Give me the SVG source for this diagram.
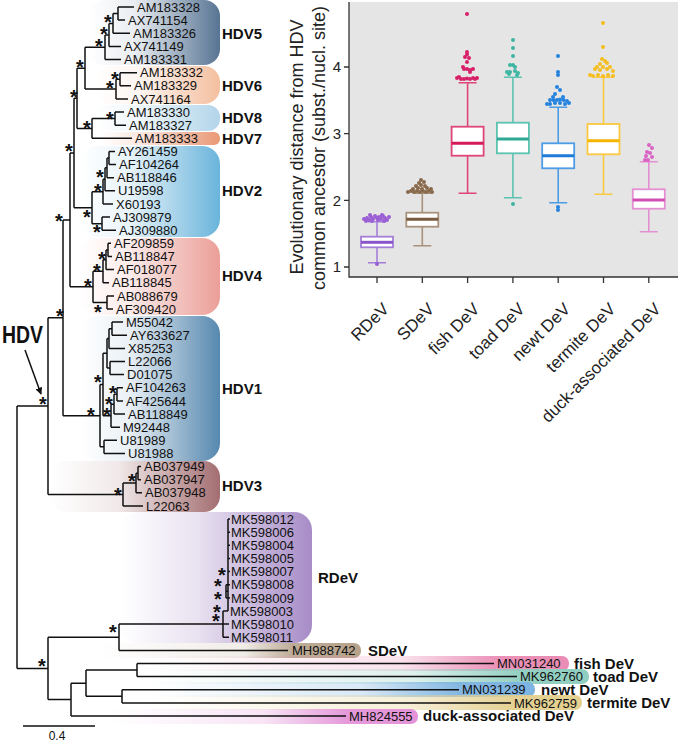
<svg xmlns="http://www.w3.org/2000/svg" width="678" height="742" viewBox="0 0 678 742">
<style>
.br{fill:none;stroke:#111;stroke-width:1.5}
.lf{font-family:"Liberation Sans",Arial,sans-serif;font-size:13px;fill:#111}
.gl{font-family:"Liberation Sans",Arial,sans-serif;font-size:15px;font-weight:bold;fill:#111}
.st{font-family:"Liberation Sans",Arial,sans-serif;font-size:20px;font-weight:bold;fill:#111;text-anchor:middle}
.ax{font-family:"Liberation Sans",Arial,sans-serif;font-size:17px;fill:#222}
.yt{font-family:"Liberation Sans",Arial,sans-serif;font-size:15px;fill:#222;text-anchor:end}
.ttl{font-family:"Liberation Sans",Arial,sans-serif;font-size:18px;fill:#222;text-anchor:middle}
.wk{fill:none;stroke-width:1.6}
.md{stroke-width:3}
</style>
<defs>
<linearGradient id="g5" x1="0" x2="1" y1="0" y2="0"><stop offset="0" stop-color="#577493" stop-opacity="0"/><stop offset="0.35" stop-color="#577493" stop-opacity="0.12"/><stop offset="1" stop-color="#577493"/></linearGradient>
<linearGradient id="g6" x1="0" x2="1" y1="0" y2="0"><stop offset="0" stop-color="#f4bf9f" stop-opacity="0"/><stop offset="0.35" stop-color="#f4bf9f" stop-opacity="0.15"/><stop offset="1" stop-color="#f4bf9f"/></linearGradient>
<linearGradient id="g8" x1="0" x2="1" y1="0" y2="0"><stop offset="0" stop-color="#b2d5ea" stop-opacity="0"/><stop offset="0.35" stop-color="#b2d5ea" stop-opacity="0.2"/><stop offset="1" stop-color="#b2d5ea"/></linearGradient>
<linearGradient id="g7" x1="0" x2="1" y1="0" y2="0"><stop offset="0" stop-color="#e99875" stop-opacity="0"/><stop offset="0.3" stop-color="#e99875" stop-opacity="0.2"/><stop offset="1" stop-color="#e99875"/></linearGradient>
<linearGradient id="g2" x1="0" x2="1" y1="0" y2="0"><stop offset="0" stop-color="#6ab4db" stop-opacity="0"/><stop offset="0.35" stop-color="#6ab4db" stop-opacity="0.15"/><stop offset="1" stop-color="#6ab4db"/></linearGradient>
<linearGradient id="g4" x1="0" x2="1" y1="0" y2="0"><stop offset="0" stop-color="#eb9f98" stop-opacity="0"/><stop offset="0.35" stop-color="#eb9f98" stop-opacity="0.2"/><stop offset="1" stop-color="#eb9f98"/></linearGradient>
<linearGradient id="g1" x1="0" x2="1" y1="0" y2="0"><stop offset="0" stop-color="#5688af" stop-opacity="0"/><stop offset="0.35" stop-color="#5688af" stop-opacity="0.12"/><stop offset="1" stop-color="#5688af"/></linearGradient>
<linearGradient id="g3" x1="0" x2="1" y1="0" y2="0"><stop offset="0" stop-color="#a36e71" stop-opacity="0"/><stop offset="0.4" stop-color="#a36e71" stop-opacity="0.15"/><stop offset="1" stop-color="#a36e71"/></linearGradient>
<linearGradient id="gR" x1="0" x2="1" y1="0" y2="0"><stop offset="0" stop-color="#a78cc6" stop-opacity="0"/><stop offset="0.4" stop-color="#a78cc6" stop-opacity="0.25"/><stop offset="1" stop-color="#a78cc6"/></linearGradient>
<linearGradient id="gS" x1="0" x2="1" y1="0" y2="0"><stop offset="0" stop-color="#b6a28b" stop-opacity="0"/><stop offset="0.55" stop-color="#b6a28b" stop-opacity="0.2"/><stop offset="0.74" stop-color="#b6a28b" stop-opacity="0.9"/><stop offset="1" stop-color="#b6a28b"/></linearGradient>
<linearGradient id="gF" x1="0" x2="1" y1="0" y2="0"><stop offset="0" stop-color="#ea8cb4" stop-opacity="0"/><stop offset="0.6" stop-color="#ea8cb4" stop-opacity="0.25"/><stop offset="0.83" stop-color="#ea8cb4" stop-opacity="0.95"/><stop offset="1" stop-color="#ea8cb4"/></linearGradient>
<linearGradient id="gT" x1="0" x2="1" y1="0" y2="0"><stop offset="0" stop-color="#8fcec0" stop-opacity="0"/><stop offset="0.6" stop-color="#8fcec0" stop-opacity="0.3"/><stop offset="0.84" stop-color="#8fcec0" stop-opacity="0.95"/><stop offset="1" stop-color="#8fcec0"/></linearGradient>
<linearGradient id="gN" x1="0" x2="1" y1="0" y2="0"><stop offset="0" stop-color="#7eb4e1" stop-opacity="0"/><stop offset="0.55" stop-color="#7eb4e1" stop-opacity="0.3"/><stop offset="0.8" stop-color="#7eb4e1" stop-opacity="0.95"/><stop offset="1" stop-color="#7eb4e1"/></linearGradient>
<linearGradient id="gM" x1="0" x2="1" y1="0" y2="0"><stop offset="0" stop-color="#e3cf8e" stop-opacity="0"/><stop offset="0.6" stop-color="#e3cf8e" stop-opacity="0.35"/><stop offset="0.84" stop-color="#e3cf8e" stop-opacity="0.95"/><stop offset="1" stop-color="#e3cf8e"/></linearGradient>
<linearGradient id="gD" x1="0" x2="1" y1="0" y2="0"><stop offset="0" stop-color="#e394d8" stop-opacity="0"/><stop offset="0.5" stop-color="#e394d8" stop-opacity="0.25"/><stop offset="0.77" stop-color="#e394d8" stop-opacity="0.95"/><stop offset="1" stop-color="#e394d8"/></linearGradient>
<marker id="ah" viewBox="0 0 10 10" refX="9" refY="5" markerWidth="7" markerHeight="7" orient="auto" markerUnits="userSpaceOnUse"><path d="M0,0 L10,5 L0,10 z" fill="#111"/></marker>
</defs>

<!-- clade backgrounds -->
<g id="backgrounds">
<rect x="88" y="0" width="132" height="65" rx="16" fill="url(#g5)"/>
<rect x="95" y="66" width="125" height="38" rx="16" fill="url(#g6)"/>
<rect x="95" y="105" width="125" height="26" rx="12" fill="url(#g8)"/>
<rect x="100" y="132" width="120" height="13" rx="6" fill="url(#g7)"/>
<rect x="80" y="146" width="140" height="91" rx="18" fill="url(#g2)"/>
<rect x="80" y="238" width="140" height="77" rx="18" fill="url(#g4)"/>
<rect x="80" y="316" width="140" height="145" rx="18" fill="url(#g1)"/>
<rect x="50" y="461" width="170" height="51" rx="16" fill="url(#g3)"/>
<rect x="120" y="512" width="192" height="131" rx="18" fill="url(#gR)"/>
<rect x="100" y="643" width="261" height="15" rx="7" fill="url(#gS)"/>
<rect x="150" y="656" width="419" height="15" rx="7" fill="url(#gF)"/>
<rect x="150" y="669" width="439" height="15" rx="7" fill="url(#gT)"/>
<rect x="150" y="682" width="385" height="15" rx="7" fill="url(#gN)"/>
<rect x="150" y="695" width="432" height="15" rx="7" fill="url(#gM)"/>
<rect x="110" y="709" width="308" height="15" rx="7" fill="url(#gD)"/>
</g>

<g id="connectors" class="br">
<path d="M118,7V20.1M118,7H134M118,20.1H125M113,13.55V33.3M113,13.55H118M113,33.3H130M109,23.4V46.4M109,23.4H113M109,46.4H121M105,34.9V59.5M105,34.9H109M105,59.5H121"/>
<path d="M120,72.7V85.8M120,72.7H137M120,85.8H131M116,79.25V98.9M116,79.25H120M116,98.9H128M85,47.2V89.1M85,47.2H105M85,89.1H116"/>
<path d="M115,112V125.2M115,112H124M115,125.2H126M92,118.6V138.3M92,118.6H115M92,138.3H132M77,68.15V128.45M77,68.15H85M77,128.45H92"/>
<path d="M109,151.4V164.6M109,151.4H115M109,164.6H116M107,158V177.7M107,158H109M107,177.7H114M105,167.85V190.8M105,167.85H107M105,190.8H115M103,179.3V204M103,179.3H105M103,204H113M102,217.1V230.2M102,217.1H110M102,230.2H116M92,191.65V223.65M92,191.65H103M92,223.65H102M74,98.3V207.65M74,98.3H77M74,207.65H92"/>
<path d="M108,243.3V256.5M108,243.3H111M108,256.5H112M106,249.9V269.6M106,249.9H108M106,269.6H114M103,259.75V282.7M103,259.75H106M103,282.7H109M107,295.9V309M107,295.9H114M107,309H113M93,271.2V302.45M93,271.2H103M93,302.45H107M70,152.98V286.8M70,152.98H74M70,286.8H93"/>
<path d="M112,322.1V335.3M112,322.1H123M112,335.3H127M109,328.7V348.4M109,328.7H112M109,348.4H125M110,361.5V374.6M110,361.5H125M110,374.6H124M107,338.55V368.05M107,338.55H109M107,368.05H110M117,387.8V400.9M117,387.8H123M117,400.9H123M114,394.35V414M114,394.35H117M114,414H125M111,404.2V427.2M111,404.2H114M111,427.2H120M103,353.3V415.7M103,353.3H107M103,415.7H111M104,440.3V453.4M104,440.3H117M104,453.4H125M100,384.5V446.85M100,384.5H103M100,446.85H104M63,219.9V415.7M63,219.9H70M63,415.7H100"/>
<path d="M138,466.6V479.7M138,466.6H141M138,479.7H141M136,473.15V492.8M136,473.15H138M136,492.8H142M123,482.98V505.9M123,482.98H136M123,505.9H143M48,317.8V494.4M48,317.8H63M48,494.4H123"/>
<path d="M17,406.1V668.4M17,406.1H48M17,668.4H48M48,637.25V699.6M48,637.25H119M48,699.6H71M119,624.1V650.4M119,624.1H223M119,650.4H288"/>
<path d="M223,611V637.2M223,611H228M223,624.1H229M223,637.2H229M228,519.1V611M228,519.1H230M228,532.2H230M228,545.3H230M228,558.5H230M228,571.6H230M226,584.7V597.9M226,584.7H230M226,597.9H230M226,591.3H228"/>
<path d="M71,683.2V716M71,683.2H86M71,716H346M86,670.05V696.3M86,670.05H137M86,696.3H122M137,663.5V676.6M137,663.5H494M137,676.6H517M122,689.7V702.9M122,689.7H459M122,702.9H511"/>
<path d="M23,726H95"/>
<path d="M25,350L41,394" marker-end="url(#ah)"/>
</g>

<g id="support">
<text class="st" x="108" y="29">*</text>
<text class="st" x="104" y="41">*</text>
<text class="st" x="99" y="53">*</text>
<text class="st" x="80" y="74">*</text>
<text class="st" x="115" y="86">*</text>
<text class="st" x="110" y="95">*</text>
<text class="st" x="74" y="104">*</text>
<text class="st" x="110" y="126">*</text>
<text class="st" x="87" y="135">*</text>
<text class="st" x="69" y="158">*</text>
<text class="st" x="100" y="184">*</text>
<text class="st" x="98" y="198">*</text>
<text class="st" x="87" y="224">*</text>
<text class="st" x="97" y="239">*</text>
<text class="st" x="59" y="228">*</text>
<text class="st" x="102" y="266">*</text>
<text class="st" x="97" y="278">*</text>
<text class="st" x="88" y="293">*</text>
<text class="st" x="98" y="319">*</text>
<text class="st" x="60" y="323">*</text>
<text class="st" x="98" y="389">*</text>
<text class="st" x="113" y="400">*</text>
<text class="st" x="109" y="411">*</text>
<text class="st" x="91" y="422">*</text>
<text class="st" x="107" y="422">*</text>
<text class="st" x="43" y="411">*</text>
<text class="st" x="132" y="488">*</text>
<text class="st" x="118" y="502">*</text>
<text class="st" x="222" y="582">*</text>
<text class="st" x="218" y="593">*</text>
<text class="st" x="218" y="606">*</text>
<text class="st" x="217" y="619">*</text>
<text class="st" x="216" y="628">*</text>
<text class="st" x="113" y="639">*</text>
<text class="st" x="42" y="673">*</text>
</g>

<g id="HDV5"><text class="lf" x="137" y="11.6">AM183328</text><text class="lf" x="128" y="24.7">AX741154</text><text class="lf" x="133" y="37.9">AM183326</text><text class="lf" x="124" y="51">AX741149</text><text class="lf" x="124" y="64.1">AM183331</text><text class="gl" x="222" y="39.4">HDV5</text></g>
<g id="HDV6"><text class="lf" x="140" y="77.3">AM183332</text><text class="lf" x="134" y="90.4">AM183329</text><text class="lf" x="131" y="103.5">AX741164</text><text class="gl" x="222" y="91.4">HDV6</text></g>
<g id="HDV8"><text class="lf" x="127" y="116.6">AM183330</text><text class="lf" x="129" y="129.8">AM183327</text><text class="gl" x="222" y="123.4">HDV8</text></g>
<g id="HDV7"><text class="lf" x="135" y="142.9">AM183333</text><text class="gl" x="222" y="143.9">HDV7</text></g>
<g id="HDV2"><text class="lf" x="118" y="156">AY261459</text><text class="lf" x="119" y="169.2">AF104264</text><text class="lf" x="117" y="182.3">AB118846</text><text class="lf" x="118" y="195.4">U19598</text><text class="lf" x="116" y="208.6">X60193</text><text class="lf" x="113" y="221.7">AJ309879</text><text class="lf" x="119" y="234.8">AJ309880</text><text class="gl" x="222" y="196.4">HDV2</text></g>
<g id="HDV4"><text class="lf" x="114" y="247.9">AF209859</text><text class="lf" x="115" y="261.1">AB118847</text><text class="lf" x="117" y="274.2">AF018077</text><text class="lf" x="112" y="287.3">AB118845</text><text class="lf" x="117" y="300.5">AB088679</text><text class="lf" x="116" y="313.6">AF309420</text><text class="gl" x="222" y="281.4">HDV4</text></g>
<g id="HDV1"><text class="lf" x="126" y="326.7">M55042</text><text class="lf" x="130" y="339.9">AY633627</text><text class="lf" x="128" y="353">X85253</text><text class="lf" x="128" y="366.1">L22066</text><text class="lf" x="127" y="379.2">D01075</text><text class="lf" x="126" y="392.4">AF104263</text><text class="lf" x="126" y="405.5">AF425644</text><text class="lf" x="128" y="418.6">AB118849</text><text class="lf" x="123" y="431.8">M92448</text><text class="lf" x="120" y="444.9">U81989</text><text class="lf" x="128" y="458">U81988</text><text class="gl" x="222" y="394.4">HDV1</text></g>
<g id="HDV3"><text class="lf" x="144" y="471.2">AB037949</text><text class="lf" x="144" y="484.3">AB037947</text><text class="lf" x="145" y="497.4">AB037948</text><text class="lf" x="146" y="510.5">L22063</text><text class="gl" x="222" y="491.4">HDV3</text></g>
<g id="RDeV"><text class="lf" x="231" y="523.7">MK598012</text><text class="lf" x="231" y="536.8">MK598006</text><text class="lf" x="231" y="549.9">MK598004</text><text class="lf" x="231" y="563.1">MK598005</text><text class="lf" x="231" y="576.2">MK598007</text><text class="lf" x="231" y="589.3">MK598008</text><text class="lf" x="231" y="602.5">MK598009</text><text class="lf" x="230" y="615.6">MK598003</text><text class="lf" x="231" y="628.7">MK598010</text><text class="lf" x="231" y="641.8">MK598011</text><text class="gl" x="318" y="583.4">RDeV</text></g>
<g id="SDeV"><text class="lf" x="292" y="655">MH988742</text><text class="gl" x="368" y="655.8">SDeV</text></g>
<g id="fishDeV"><text class="lf" x="497" y="668.1">MN031240</text><text class="gl" x="574" y="668.9">fish DeV</text></g>
<g id="toadDeV"><text class="lf" x="520" y="681.2">MK962760</text><text class="gl" x="593" y="682">toad DeV</text></g>
<g id="newtDeV"><text class="lf" x="462" y="694.3">MN031239</text><text class="gl" x="541" y="695.1">newt DeV</text></g>
<g id="termiteDeV"><text class="lf" x="514" y="707.5">MK962759</text><text class="gl" x="587" y="708.3">termite DeV</text></g>
<g id="duckDeV"><text class="lf" x="349" y="720.6">MH824555</text><text class="gl" x="423" y="721.4">duck-associated DeV</text></g>
<g id="HDVlabel"><text x="2" y="343" font-family="Liberation Sans, Arial, sans-serif" font-size="23" font-weight="bold" fill="#111" textLength="41" lengthAdjust="spacingAndGlyphs">HDV</text></g>
<g id="scale"><text x="57" y="740" font-family="Liberation Sans, Arial, sans-serif" font-size="12" fill="#111" text-anchor="middle">0.4</text></g>

<!-- box plot -->
<g id="boxplot">
<rect x="349" y="2" width="329" height="275" fill="#e5e5e5"/>
<path d="M349,2V277H678" fill="none" stroke="#333" stroke-width="1.3"/>
<path d="M344,67H349M344,133.7H349M344,200.3H349M344,267H349M377,277V283M422.3,277V283M467.6,277V283M512.9,277V283M558.2,277V283M603.5,277V283M648.8,277V283" stroke="#333" stroke-width="1.3"/>
<text class="yt" x="341" y="72">4</text>
<text class="yt" x="341" y="139">3</text>
<text class="yt" x="341" y="205.5">2</text>
<text class="yt" x="341" y="272">1</text>
<text class="ttl" transform="translate(303,147) rotate(-90)">Evolutionary distance from HDV</text>
<text class="ttl" transform="translate(325,148) rotate(-90)">common ancestor (subst./nucl. site)</text>
<g class="ax" text-anchor="end">
<text transform="translate(390,310) rotate(-45)">RDeV</text>
<text transform="translate(435.3,310) rotate(-45)">SDeV</text>
<text transform="translate(480.6,310) rotate(-45)">fish DeV</text>
<text transform="translate(525.9,310) rotate(-45)">toad DeV</text>
<text transform="translate(571.2,310) rotate(-45)">newt DeV</text>
<text transform="translate(616.5,310) rotate(-45)">termite DeV</text>
<text transform="translate(661.8,310) rotate(-45)">duck-associated DeV</text>
</g>

<g id="box-RDeV" stroke="#a47fd8">
<path class="wk" d="M377,236.7V221.7M368,221.7H386M377,247.3V262.7M368,262.7H386"/>
<rect x="361" y="236.7" width="32" height="10.6" fill="#fff" stroke-width="1.8"/>
<path class="md" d="M361,242.3H393" stroke="#8a55c9"/>
<g fill="#9a5fd4" stroke="none"><circle cx="364" cy="219" r="2"/><circle cx="367" cy="218" r="2"/><circle cx="369" cy="220" r="2"/><circle cx="371" cy="217" r="2"/><circle cx="373" cy="219" r="2"/><circle cx="375" cy="216" r="2"/><circle cx="377" cy="218" r="2"/><circle cx="379" cy="217" r="2"/><circle cx="381" cy="219" r="2"/><circle cx="383" cy="216" r="2"/><circle cx="385" cy="218" r="2"/><circle cx="387" cy="220" r="2"/><circle cx="389" cy="217" r="2"/><circle cx="366" cy="221" r="2"/><circle cx="372" cy="221" r="2"/><circle cx="378" cy="220" r="2"/><circle cx="384" cy="221" r="2"/><circle cx="370" cy="215" r="2"/><circle cx="382" cy="215" r="2"/><circle cx="377" cy="264" r="2"/></g>
</g>
<g id="box-SDeV" stroke="#a9927c">
<path class="wk" d="M422.3,212.7V193.3M413.3,193.3H431.3M422.3,226.7V245.7M413.3,245.7H431.3"/>
<rect x="406.3" y="212.7" width="32" height="14" fill="#fff" stroke-width="1.8"/>
<path class="md" d="M406.3,219.3H438.3" stroke="#7b5b3f"/>
<g fill="#8a6a4c" stroke="none"><circle cx="408" cy="192" r="2"/><circle cx="411" cy="191" r="2"/><circle cx="414" cy="192" r="2"/><circle cx="417" cy="191" r="2"/><circle cx="420" cy="192" r="2"/><circle cx="423" cy="191" r="2"/><circle cx="426" cy="192" r="2"/><circle cx="429" cy="191" r="2"/><circle cx="432" cy="192" r="2"/><circle cx="413" cy="189" r="2"/><circle cx="418" cy="188" r="2"/><circle cx="422" cy="189" r="2"/><circle cx="427" cy="188" r="2"/><circle cx="431" cy="189" r="2"/><circle cx="416" cy="186" r="2"/><circle cx="421" cy="185" r="2"/><circle cx="425" cy="186" r="2"/><circle cx="419" cy="183" r="2"/><circle cx="424" cy="182" r="2"/><circle cx="421" cy="180" r="2"/></g>
</g>
<g id="box-fish" stroke="#e0457a">
<path class="wk" d="M467.6,126.7V82.7M458.6,82.7H476.6M467.6,155.7V193.3M458.6,193.3H476.6"/>
<rect x="451.6" y="126.7" width="32" height="29" fill="#fff" stroke-width="1.8"/>
<path class="md" d="M451.6,143.3H483.6" stroke="#d51a5c"/>
<g fill="#d8206a" stroke="none"><circle cx="467" cy="14" r="2"/><circle cx="467" cy="52" r="2"/><circle cx="467" cy="54.5" r="2"/><circle cx="465" cy="57" r="2"/><circle cx="469" cy="58" r="2"/><circle cx="467" cy="62" r="2"/><circle cx="463" cy="67" r="2"/><circle cx="464" cy="69" r="2"/><circle cx="467" cy="69" r="2"/><circle cx="470" cy="70" r="2"/><circle cx="473" cy="69" r="2"/><circle cx="470" cy="72" r="2"/><circle cx="457" cy="78" r="2"/><circle cx="459" cy="77" r="2"/><circle cx="461" cy="79" r="2"/><circle cx="464" cy="79" r="2"/><circle cx="467" cy="78.5" r="2"/><circle cx="470" cy="79" r="2"/><circle cx="473" cy="78" r="2"/><circle cx="475" cy="79" r="2"/><circle cx="477" cy="78" r="2"/></g>
</g>
<g id="box-toad" stroke="#5cc3b1">
<path class="wk" d="M512.9,122.7V77.3M503.9,77.3H521.9M512.9,153.3V197.7M503.9,197.7H521.9"/>
<rect x="496.9" y="122.7" width="32" height="30.6" fill="#fff" stroke-width="1.8"/>
<path class="md" d="M496.9,139H528.9" stroke="#2ea994"/>
<g fill="#3db5a2" stroke="none"><circle cx="513" cy="40" r="2"/><circle cx="513" cy="48" r="2"/><circle cx="513" cy="56" r="2"/><circle cx="510" cy="65" r="2"/><circle cx="513" cy="65" r="2"/><circle cx="515" cy="67" r="2"/><circle cx="507" cy="72" r="2"/><circle cx="510" cy="72" r="2"/><circle cx="515" cy="71" r="2"/><circle cx="518" cy="73" r="2"/><circle cx="517" cy="75" r="2"/><circle cx="509" cy="74" r="2"/><circle cx="513" cy="204" r="2"/></g>
</g>
<g id="box-newt" stroke="#4d9ce6">
<path class="wk" d="M558.2,143.3V107.3M549.2,107.3H567.2M558.2,168.3V202.7M549.2,202.7H567.2"/>
<rect x="542.2" y="143.3" width="32" height="25" fill="#fff" stroke-width="1.8"/>
<path class="md" d="M542.2,155.7H574.2" stroke="#1f7bd8"/>
<g fill="#2583e0" stroke="none"><circle cx="558" cy="56" r="2"/><circle cx="558" cy="72" r="2"/><circle cx="558" cy="75" r="2"/><circle cx="557" cy="87" r="2"/><circle cx="560" cy="90" r="2"/><circle cx="555" cy="94" r="2"/><circle cx="553" cy="97" r="2"/><circle cx="563" cy="97" r="2"/><circle cx="550" cy="100" r="2"/><circle cx="553.5" cy="100" r="2"/><circle cx="557" cy="100" r="2"/><circle cx="560" cy="99.5" r="2"/><circle cx="563.5" cy="100" r="2"/><circle cx="567" cy="101" r="2"/><circle cx="547" cy="104" r="2"/><circle cx="550" cy="104" r="2"/><circle cx="555" cy="103" r="2"/><circle cx="560" cy="103" r="2"/><circle cx="565" cy="104" r="2"/><circle cx="569" cy="103" r="2"/><circle cx="558" cy="207" r="2"/><circle cx="558" cy="210" r="2"/></g>
</g>
<g id="box-termite" stroke="#f9c93e">
<path class="wk" d="M603.5,124V77.3M594.5,77.3H612.5M603.5,154.3V194.3M594.5,194.3H612.5"/>
<rect x="587.5" y="124" width="32" height="30.3" fill="#fff" stroke-width="1.8"/>
<path class="md" d="M587.5,140.7H619.5" stroke="#f4b400"/>
<g fill="#f5bd1f" stroke="none"><circle cx="603" cy="23" r="2"/><circle cx="603" cy="47" r="2"/><circle cx="602" cy="59" r="2"/><circle cx="605" cy="61" r="2"/><circle cx="607" cy="63" r="2"/><circle cx="600" cy="64" r="2"/><circle cx="597" cy="67" r="2"/><circle cx="603" cy="67" r="2"/><circle cx="610" cy="67" r="2"/><circle cx="595" cy="69" r="2"/><circle cx="600" cy="70" r="2"/><circle cx="607" cy="69" r="2"/><circle cx="613" cy="71" r="2"/><circle cx="590" cy="75" r="2"/><circle cx="593" cy="76" r="2"/><circle cx="598" cy="75" r="2"/><circle cx="603" cy="76" r="2"/><circle cx="608" cy="75" r="2"/><circle cx="613" cy="76" r="2"/></g>
</g>
<g id="box-duck" stroke="#e58fd3">
<path class="wk" d="M648.8,189.3V161.7M639.8,161.7H657.8M648.8,208.7V231.7M639.8,231.7H657.8"/>
<rect x="632.8" y="189.3" width="32" height="19.4" fill="#fff" stroke-width="1.8"/>
<path class="md" d="M632.8,200H664.8" stroke="#d14eb5"/>
<g fill="#d964c4" stroke="none"><circle cx="649" cy="145" r="2"/><circle cx="652" cy="148" r="2"/><circle cx="647" cy="152" r="2"/><circle cx="650" cy="153" r="2"/><circle cx="646" cy="156" r="2"/><circle cx="652" cy="157" r="2"/><circle cx="645" cy="160" r="2"/><circle cx="648" cy="160" r="2"/></g>
</g>
</g>
</svg>
